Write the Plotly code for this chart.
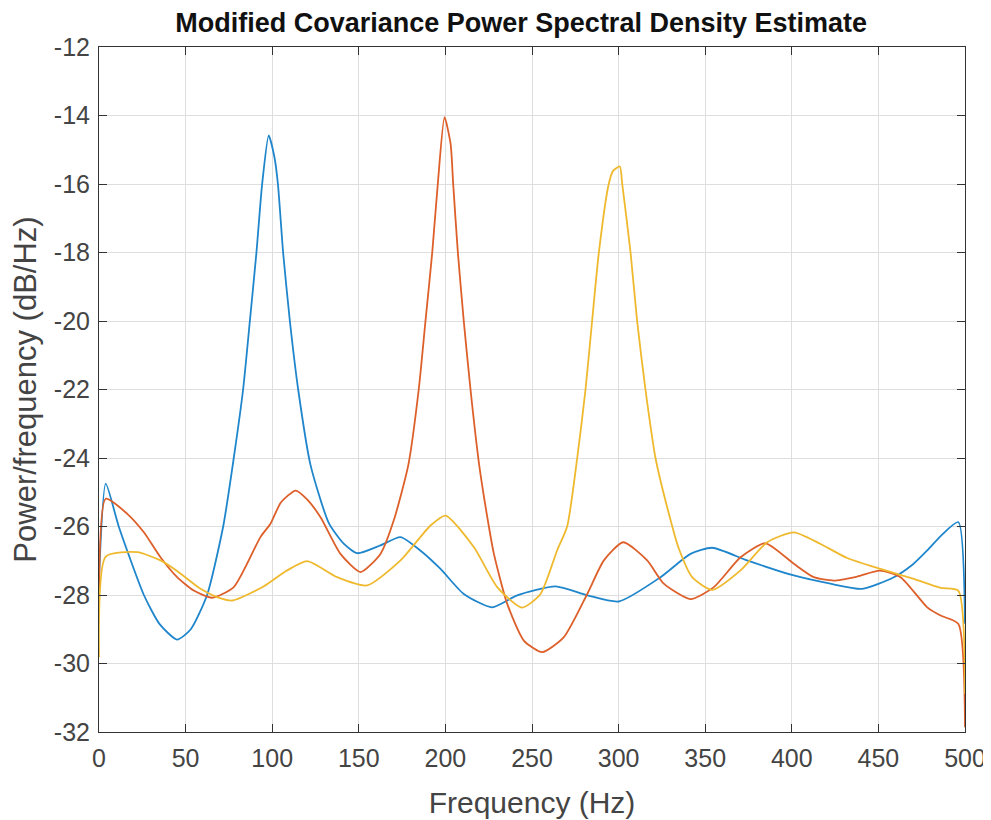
import plotly.graph_objects as go

# channel 1 (blue) - peak near 100 Hz
freq_ch1 = [0, 3.9, 11.4, 25.9, 35, 45.1, 53, 62.4, 71.7, 77.8, 83.2, 87.1, 90.9, 94.2, 98.0,
            101.3, 103.3, 106.3, 110.2, 115.0, 122.1, 132.7, 141.3, 149.1, 162.5, 174.1, 185.5,
            197.2, 210.6, 227, 241.5, 263.6, 281.9, 300.1, 324.2, 341.5, 354, 374.2, 401.2,
            422.3, 440.6, 458.9, 470, 478.2, 486.5, 496.1, 500]
psd_ch1 = [-27.5, -24.75, -26.0, -28.0, -28.85, -29.3, -29.0, -28.0, -26.0, -24.0, -22.0, -20.0,
           -18.0, -16.0, -14.58, -15.22, -16.0, -18.0, -20.0, -22.0, -24.2, -25.9, -26.5, -26.78,
           -26.55, -26.31, -26.7, -27.24, -27.97, -28.36, -28.01, -27.75, -28.01, -28.19, -27.48,
           -26.8, -26.62, -26.99, -27.43, -27.67, -27.82, -27.48, -27.1, -26.7, -26.25, -25.87,
           -28.84]

# channel 2 (orange) - peak near 200 Hz
freq_ch2 = [0, 3.9, 16.3, 25.9, 35.5, 45.1, 54.7, 65.3, 77.8, 93.2, 99, 105, 113.5, 120, 127.9,
            139.4, 151, 162.5, 170.2, 178.6, 184.6, 188.5, 192.4, 195.6, 199.5, 203, 204.5,
            207.2, 210.6, 214.5, 219.5, 225.1, 228, 235.7, 245.3, 255.9, 268.4, 281.9, 291.5,
            302.7, 316.5, 326.1, 341.5, 355, 370.4, 384.8, 401.2, 412.7, 424.3, 437.8, 450.8,
            462.8, 478.2, 485.9, 496.1, 500]
psd_ch2 = [-28.16, -25.19, -25.63, -26.17, -26.9, -27.48, -27.87, -28.08, -27.77, -26.31, -25.92,
           -25.3, -24.95, -25.2, -25.73, -26.8, -27.33, -26.8, -25.82, -24.2, -22.0, -20.0, -18.0,
           -16.0, -14.05, -14.83, -16.0, -18.0, -20.0, -22.0, -24.2, -26.0, -26.8, -28.26, -29.33,
           -29.67, -29.23, -27.97, -26.99, -26.46, -26.99, -27.67, -28.12, -27.77, -26.9, -26.49,
           -27.09, -27.48, -27.58, -27.46, -27.29, -27.48, -28.36, -28.6, -28.84, -31.86]

# channel 3 (yellow) - peak near 300 Hz
freq_ch3 = [0, 3.9, 22, 35.5, 45.1, 58.6, 68.2, 77, 95, 108, 120.2, 137.5, 154.8, 174.1, 191.4,
            200.1, 216.4, 229.9, 244.3, 254.9, 264.5, 270.3, 276.1, 280.9, 284.7, 288.6, 294.3,
            296.9, 300.7, 302.1, 306.9, 310.7, 315.5, 321.3, 331, 334.8, 342.5, 354, 370.4,
            385.8, 401.2, 416.6, 432, 451.2, 470.4, 485.9, 496.1, 500]
psd_ch3 = [-29.82, -26.88, -26.75, -26.99, -27.3, -27.82, -28.06, -28.16, -27.75, -27.3, -27.01,
           -27.48, -27.72, -26.99, -25.97, -25.68, -26.6, -27.77, -28.37, -27.97, -26.7, -26.0,
           -24.0, -22.0, -20.0, -18.0, -16.0, -15.61, -15.49, -16.0, -18.0, -20.0, -22.0, -24.0,
           -26.0, -26.65, -27.48, -27.85, -27.28, -26.46, -26.17, -26.51, -26.92, -27.24, -27.53,
           -27.79, -27.87, -30.88]

x_ticks = [0, 50, 100, 150, 200, 250, 300, 350, 400, 450, 500]
y_ticks = [-32, -30, -28, -26, -24, -22, -20, -18, -16, -14, -12]
y_ticklabels = ["-32", "-30", "-28", "-26", "-24", "-22", "-20", "-18", "-16", "-14", "-12"]

series = [
    (freq_ch1, psd_ch1, "#1f86cc"),
    (freq_ch2, psd_ch2, "#dd5f2a"),
    (freq_ch3, psd_ch3, "#efb92e"),
]

fig = go.Figure()
for f, p, c in series:
    fig.add_trace(go.Scatter(x=f, y=p, mode="lines",
                             line=dict(color=c, width=1.8, shape="spline", smoothing=0.6),
                             showlegend=False))

axis_style = dict(
    showline=True, linecolor="#333333", linewidth=1, mirror="allticks",
    ticks="inside", ticklen=8, tickcolor="#333333",
    showgrid=True, gridcolor="#dedede", gridwidth=1, zeroline=False,
    automargin=False,
    tickfont=dict(family="Liberation Sans", size=25, color="#444444"),
)

fig.update_xaxes(range=[0, 500], tickvals=x_ticks, ticklabelstandoff=4,
                 title=dict(text="Frequency (Hz)", standoff=20,
                            font=dict(family="Liberation Sans", size=30, color="#444444")),
                 **axis_style)
fig.update_yaxes(range=[-32, -12], tickvals=y_ticks, ticktext=y_ticklabels, ticklabelstandoff=3,
                 title=dict(text="Power/frequency (dB/Hz)", standoff=11,
                            font=dict(family="Liberation Sans", size=31, color="#444444")),
                 **axis_style)

# page body adds an 8px offset, so the figure is 8px smaller than the window
fig.update_layout(
    width=983, height=812,
    margin=dict(l=91, r=26, t=39, b=88),
    plot_bgcolor="white", paper_bgcolor="white",
    title=dict(text="<b>Modified Covariance Power Spectral Density Estimate</b>",
               x=0.522, xanchor="center", y=1 - 15 / 812, yanchor="middle", yref="container",
               font=dict(family="Liberation Sans", size=27, color="#111111")),
)

fig.write_html("out.html")
